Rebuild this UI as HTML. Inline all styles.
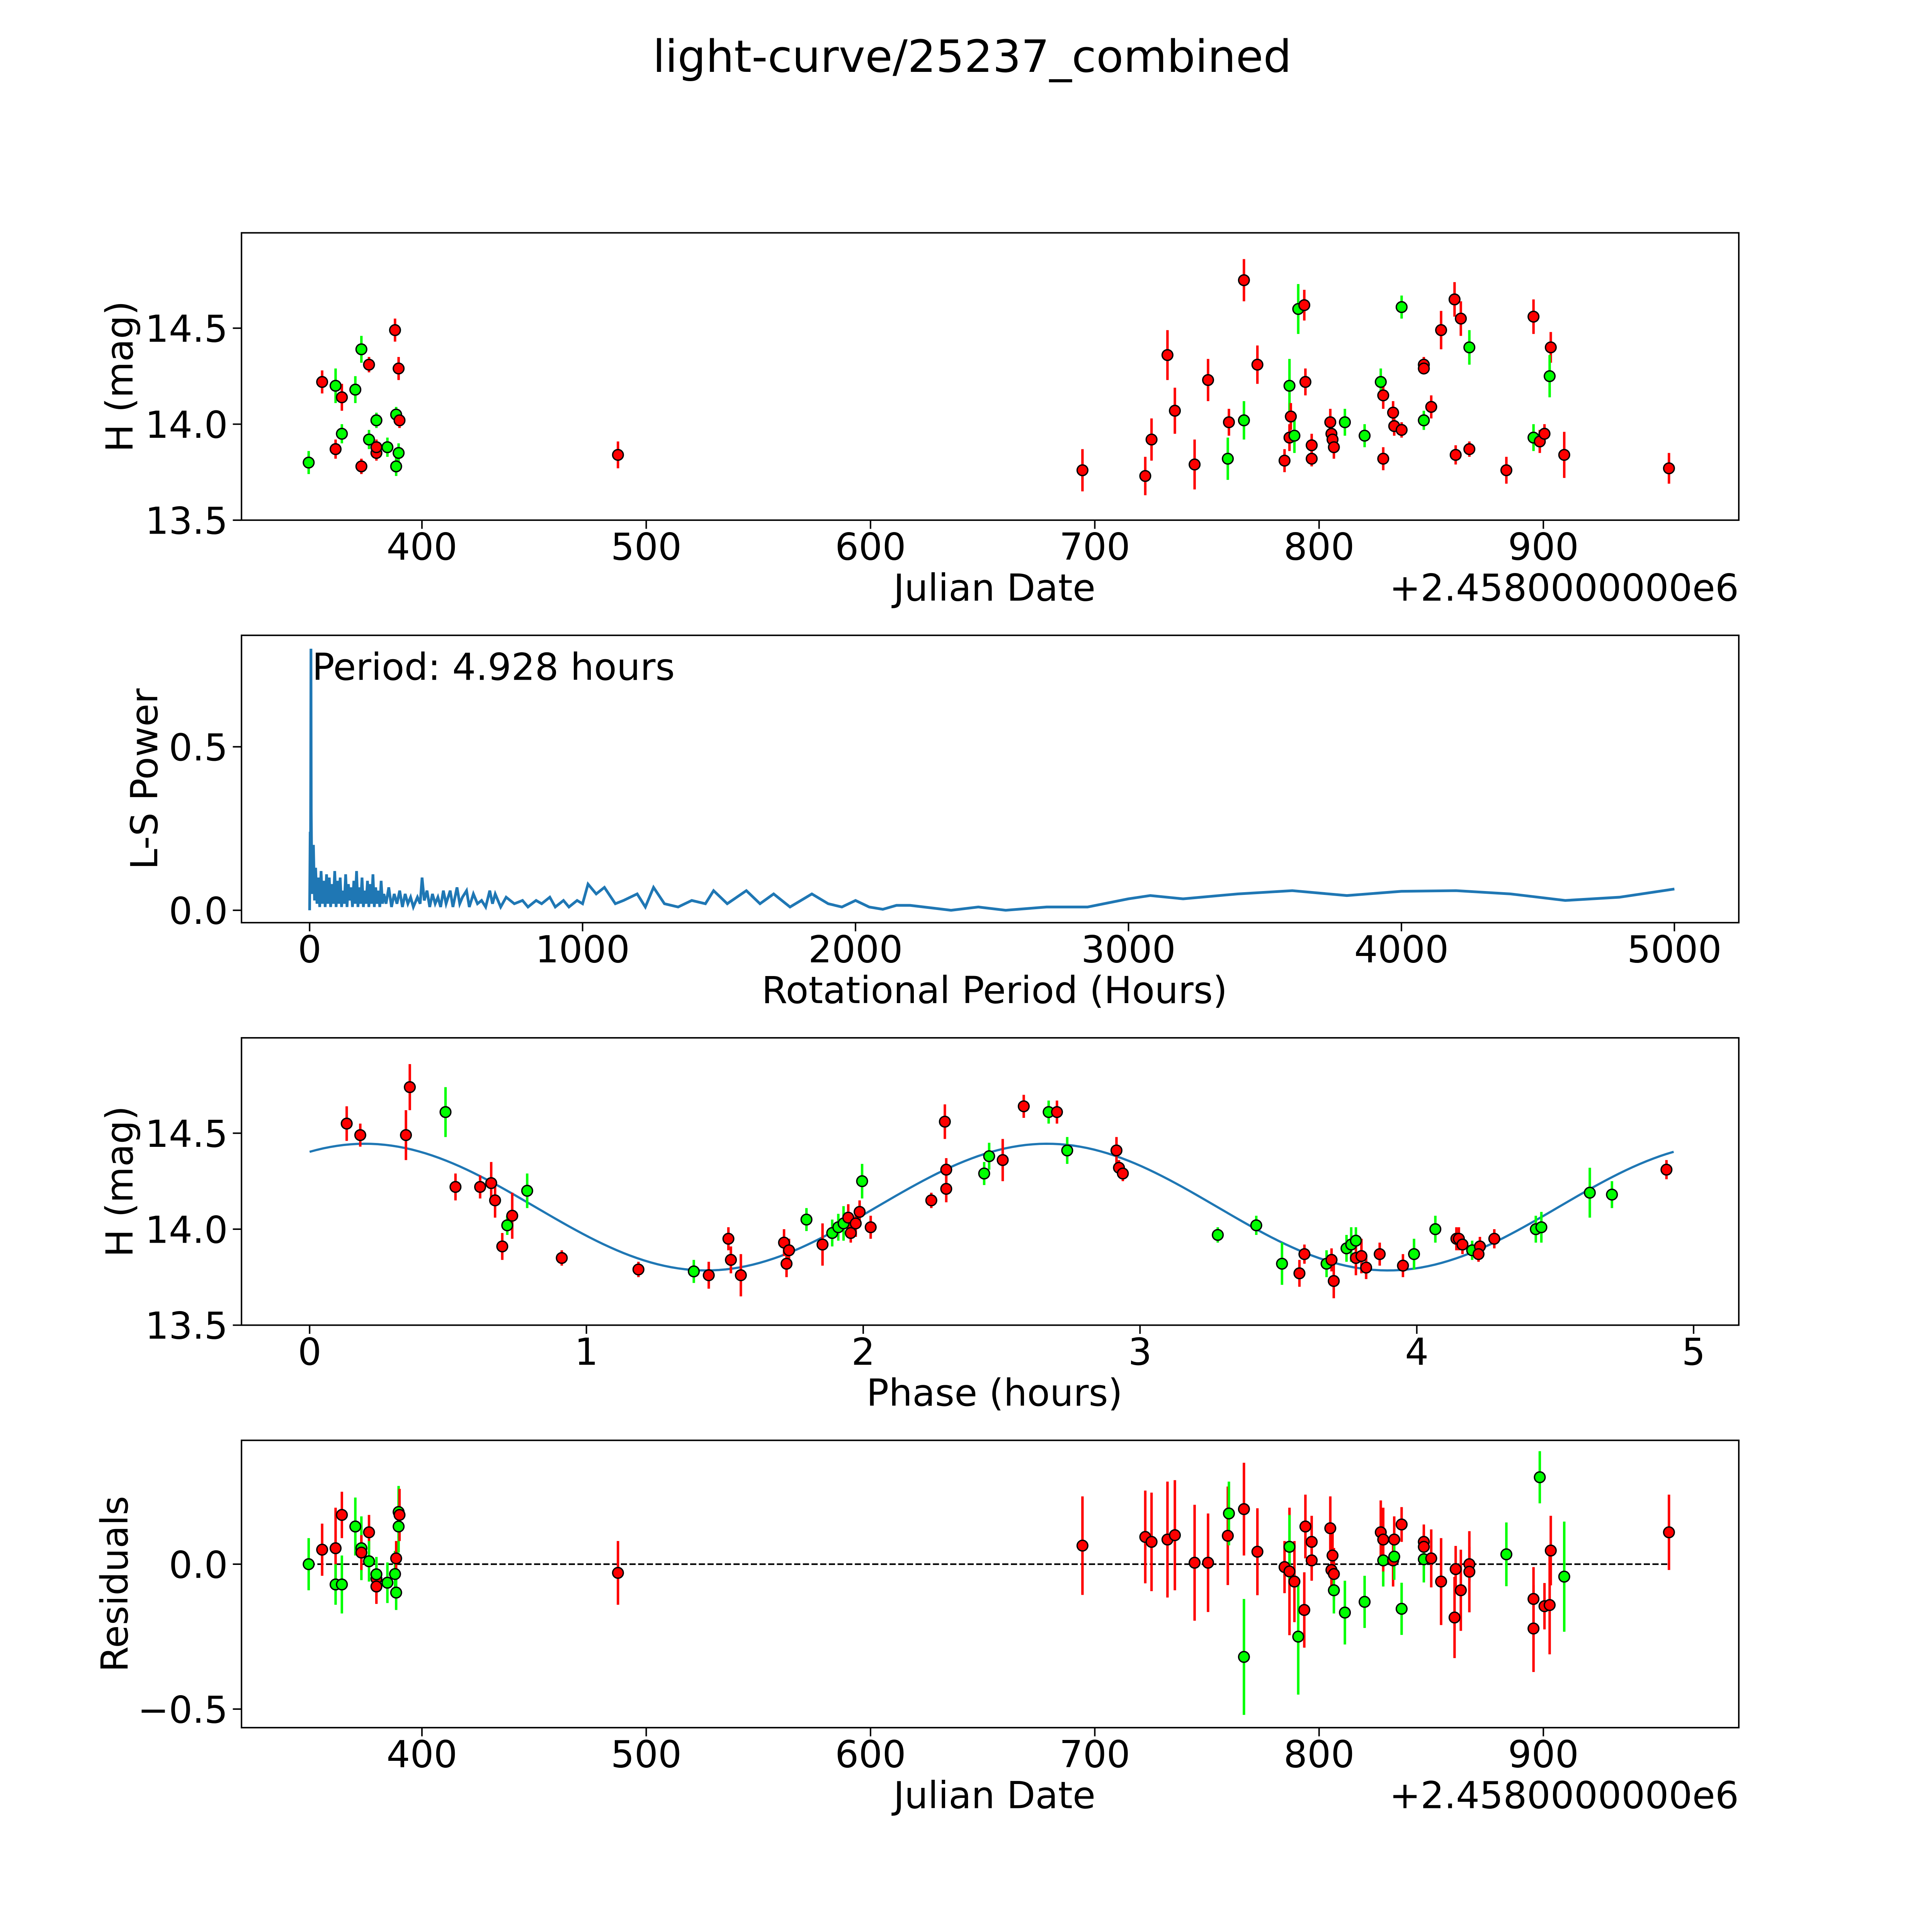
<!DOCTYPE html>
<html><head><meta charset="utf-8">
<style>
html,body{margin:0;padding:0;background:#fff;overflow:hidden;width:100%;height:100%;}
svg{display:block;width:100vw;height:100vh;font-family:"DejaVu Sans","Liberation Sans",sans-serif;}
</style></head>
<body>
<svg id="fig" viewBox="0 0 1560 1560" preserveAspectRatio="none" xmlns="http://www.w3.org/2000/svg">
<rect width="1560" height="1560" fill="#fff"/>
<text x="785" y="58" font-size="36" text-anchor="middle">light-curve/25237_combined</text>
</svg>
<script>
// ---------- data ----------
// Panel 1: light curve (offset JD, mag, error, band)
const lcJd  = [349.5,355.5,361.5,361.5,364.3,364.3,370.3,373,373,376.4,376.4,379.7,379.7,379.7,384.6,388,388.5,388.5,389.6,389.6,390,487.4,694.5,722.5,725.3,732.4,735.7,744.5,750.5,759.3,759.8,766.5,766.5,772.5,784.6,786.8,786.8,787.4,789,790.7,793.4,793.9,796.7,796.7,805,805.5,806,806.6,811.5,820.3,827.5,828.6,828.6,833,833.5,836.8,836.8,846.7,846.7,846.7,850,854.4,860.4,860.9,863.2,867,867,883.5,895.6,895.6,898.4,900.5,903.3,902.8,909.3,956];
const lcMag = [13.80,14.22,14.20,13.87,14.14,13.95,14.18,14.39,13.78,14.31,13.92,14.02,13.85,13.88,13.88,14.49,13.78,14.05,14.29,13.85,14.02,13.84,13.76,13.73,13.92,14.36,14.07,13.79,14.23,13.82,14.01,14.02,14.75,14.31,13.81,14.20,13.93,14.04,13.94,14.60,14.62,14.22,13.89,13.82,14.01,13.95,13.92,13.88,14.01,13.94,14.22,13.82,14.15,14.06,13.99,13.97,14.61,14.31,14.29,14.02,14.09,14.49,14.65,13.84,14.55,13.87,14.40,13.76,14.56,13.93,13.91,13.95,14.40,14.25,13.84,13.77];
const lcErr = [0.06,0.06,0.09,0.05,0.07,0.05,0.07,0.07,0.04,0.04,0.05,0.04,0.04,0.04,0.05,0.06,0.05,0.04,0.06,0.05,0.04,0.07,0.11,0.10,0.11,0.13,0.12,0.13,0.11,0.11,0.07,0.10,0.11,0.10,0.06,0.14,0.07,0.07,0.09,0.13,0.08,0.07,0.06,0.04,0.07,0.05,0.05,0.06,0.07,0.06,0.07,0.06,0.07,0.06,0.05,0.04,0.06,0.04,0.03,0.05,0.06,0.10,0.09,0.05,0.09,0.04,0.09,0.07,0.09,0.07,0.06,0.05,0.08,0.11,0.12,0.08];
const lcBand= "grgrrgggrrggrrgrggrgrrrrrrrrrgrgrrrgrrggrrrrrrrrgggrrrrrgrrgrrrrrrgrrgrrrgrr";
// Panel 2: periodogram
const lsPeriod = [0,2,3,4,4.9,6,8,10,14,18,22,27,32,37,42,47,52,57,62,67,72,77,82,87,92,97,102,107,112,117,122,127,132,137,142,147,152,157,162,167,172,177,182,187,192,197,202,207,212,217,222,227,232,237,242,247,252,257,262,267,272,280,290,300,310,320,330,340,350,360,370,380,395,405,412,420,430,440,450,460,470,480,490,500,515,525,540,550,560,575,585,600,615,630,645,660,670,680,700,720,750,780,800,830,850,880,900,930,950,980,1000,1020,1050,1080,1120,1150,1200,1230,1260,1300,1350,1400,1450,1480,1530,1600,1650,1700,1760,1840,1900,1950,2000,2050,2100,2150,2200,2300,2350,2450,2550,2700,2850,3000,3080,3200,3400,3600,3800,4000,4200,4400,4600,4800,5000];
const lsPower  = [0.0,0.24,0.05,0.40,0.80,0.30,0.10,0.05,0.20,0.03,0.13,0.02,0.10,0.01,0.12,0.02,0.09,0.01,0.11,0.02,0.10,0.01,0.08,0.02,0.12,0.01,0.09,0.02,0.10,0.01,0.06,0.02,0.11,0.01,0.08,0.03,0.07,0.01,0.09,0.02,0.12,0.01,0.07,0.02,0.10,0.01,0.06,0.02,0.09,0.01,0.08,0.02,0.11,0.01,0.07,0.02,0.06,0.01,0.09,0.02,0.05,0.02,0.07,0.01,0.05,0.02,0.06,0.01,0.05,0.02,0.04,0.01,0.04,0.02,0.10,0.03,0.06,0.01,0.05,0.02,0.04,0.01,0.06,0.02,0.06,0.01,0.07,0.02,0.04,0.06,0.01,0.05,0.02,0.03,0.01,0.06,0.02,0.05,0.01,0.04,0.02,0.03,0.01,0.03,0.02,0.04,0.01,0.03,0.01,0.03,0.02,0.08,0.05,0.07,0.02,0.03,0.05,0.01,0.07,0.02,0.01,0.03,0.02,0.06,0.02,0.06,0.02,0.05,0.01,0.05,0.02,0.01,0.03,0.01,0.003,0.015,0.015,0.005,0.0,0.01,0.0,0.01,0.01,0.035,0.045,0.035,0.05,0.06,0.045,0.058,0.06,0.05,0.03,0.04,0.065];
// Panel 3: phased light curve
const phPhase = [0.134,0.183,0.348,0.362,0.491,0.527,0.616,0.656,0.67,0.696,0.714,0.732,0.786,0.911,1.188,1.388,1.442,1.513,1.522,1.558,1.714,1.723,1.732,1.795,1.853,1.888,1.91,1.929,1.946,1.955,1.973,1.987,1.996,2.027,2.246,2.295,2.3,2.3,2.437,2.455,2.504,2.58,2.67,2.70,2.737,2.915,2.924,2.938,3.281,3.42,3.513,3.576,3.594,3.674,3.692,3.70,3.746,3.763,3.78,3.78,3.8,3.817,3.866,3.95,3.99,4.067,4.143,4.152,4.165,4.2,4.228,4.223,4.28,4.43,4.45,4.625,4.705,4.902];
const phMag   = [14.55,14.49,14.49,14.74,14.61,14.22,14.22,14.24,14.15,13.91,14.02,14.07,14.20,13.85,13.79,13.78,13.76,13.95,13.84,13.76,13.93,13.82,13.89,14.05,13.92,13.98,14.01,14.03,14.06,13.98,14.03,14.09,14.25,14.01,14.15,14.56,14.31,14.21,14.29,14.38,14.36,14.64,14.61,14.61,14.41,14.41,14.32,14.29,13.97,14.02,13.82,13.77,13.87,13.82,13.84,13.73,13.90,13.92,13.94,13.85,13.86,13.80,13.87,13.81,13.87,14.00,13.95,13.95,13.92,13.89,13.91,13.87,13.95,14.00,14.01,14.19,14.18,14.31];
const phErr   = [0.09,0.06,0.13,0.12,0.13,0.07,0.06,0.11,0.09,0.07,0.05,0.12,0.09,0.04,0.04,0.06,0.07,0.06,0.07,0.11,0.07,0.07,0.06,0.06,0.11,0.07,0.07,0.09,0.07,0.05,0.07,0.06,0.09,0.06,0.04,0.09,0.06,0.07,0.06,0.07,0.11,0.06,0.06,0.06,0.07,0.07,0.04,0.04,0.04,0.05,0.11,0.07,0.05,0.07,0.06,0.09,0.07,0.09,0.07,0.09,0.09,0.06,0.06,0.06,0.08,0.07,0.06,0.06,0.05,0.05,0.05,0.04,0.05,0.07,0.08,0.13,0.07,0.05];
const phBand  = "rrrrgrrrrrgrgrrgrrrrrrrgrgggrrrrgrrrrrggrrgrgrrrgggrrgrrgggrrrrrggrrrgrrrggggr";
// sine fit parameters
const fitMean = 14.115, fitAmp = 0.33, fitPeriod = 2.464, fitPeak = 0.2, foldPeriod = 4.928;
// Panel 4: residuals
const rsJd  = [349.5,355.5,361.5,361.5,364.3,364.3,370.3,373,373,376.4,376.4,379.7,379.7,379.7,384.6,388.5,388,388.5,389.6,389.6,390,487.4,694.5,722.5,725.3,732.4,735.7,744.5,750.5,759.3,759.8,766.5,766.5,772.5,784.6,786.8,786.8,789,790.7,793.4,793.9,796.7,796.7,805,805.5,806,806.6,806.6,811.5,820.3,827.5,828.6,828.6,833,833.5,833.5,836.8,836.8,846.7,846.7,846.7,850,854.4,860.4,860.9,863.2,867,867,883.5,895.6,895.6,898.4,900.5,903.3,902.8,909.3,956];
const rsVal = [0.0,0.05,0.055,-0.07,-0.07,0.17,0.13,0.055,0.04,0.11,0.01,-0.05,-0.035,-0.077,-0.064,-0.098,-0.034,0.02,0.13,0.18,0.17,-0.03,0.064,0.094,0.077,0.085,0.1,0.005,0.005,0.098,0.175,0.19,-0.32,0.043,-0.01,-0.025,0.06,-0.06,-0.25,-0.158,0.13,0.077,0.013,0.124,-0.02,0.03,-0.034,-0.09,-0.167,-0.13,0.11,0.013,0.085,0.013,0.085,0.026,0.137,-0.154,0.077,0.06,0.017,0.02,-0.06,-0.184,-0.017,-0.09,0.0,-0.026,0.034,-0.222,-0.12,0.3,-0.145,0.047,-0.141,-0.043,0.11];
const rsErr = [0.09,0.09,0.14,0.07,0.1,0.08,0.1,0.11,0.06,0.06,0.07,0.06,0.06,0.06,0.07,0.06,0.08,0.06,0.09,0.09,0.09,0.11,0.17,0.16,0.17,0.2,0.19,0.2,0.17,0.17,0.11,0.16,0.2,0.15,0.09,0.22,0.11,0.14,0.2,0.13,0.11,0.09,0.07,0.11,0.08,0.08,0.09,0.08,0.11,0.09,0.11,0.09,0.11,0.09,0.08,0.08,0.06,0.09,0.06,0.05,0.08,0.1,0.15,0.14,0.08,0.14,0.06,0.14,0.11,0.15,0.11,0.09,0.08,0.12,0.17,0.19,0.13];
const rsBand= "grrggrggrrgrgrgggrggrrrrrrrrrrgrgrrrgrgrrrrrrrrgggrgrrrgrgrrgrrrrrrrgrrgrrrgrr";

// ---------- helpers ----------
const NS="http://www.w3.org/2000/svg";
const fig=document.getElementById('fig');
function mk(tag,attrs,parent){const e=document.createElementNS(NS,tag);for(const k in attrs)e.setAttribute(k,attrs[k]);(parent||fig).appendChild(e);return e;}
const COL={r:'#ff0000',g:'#00ff00'};
const FS=30;
function panel(name,x0,y0,x1,y1){
  const g=mk('g',{});
  
  
  return {g,x0,y0,x1,y1};
}
function frame(p){
  const r=mk('rect',{x:p.x0,y:p.y0,width:p.x1-p.x0,height:p.y1-p.y0,fill:'none',stroke:'#000','stroke-width':1.2},p.g);
  
  
}
function xticks(p,vals,fx,fmt){
  vals.forEach(v=>{const x=fx(v);
    mk('line',{x1:x,x2:x,y1:p.y1,y2:p.y1+7,stroke:'#000','stroke-width':1.2},p.g);
    const t=mk('text',{x:x,y:p.y1+32,'font-size':FS,'text-anchor':'middle'},p.g);
    
    
    t.textContent=fmt(v);});
}
function yticks(p,vals,fy,fmt){
  vals.forEach(v=>{const y=fy(v);
    mk('line',{x1:p.x0-7,x2:p.x0,y1:y,y2:y,stroke:'#000','stroke-width':1.2},p.g);
    const t=mk('text',{x:p.x0-11,y:y+11,'font-size':FS,'text-anchor':'end'},p.g);
    
    
    t.textContent=fmt(v);});
}
function label(p,txt,x,y,rot,name){
  const t=mk('text',{x:x,y:y,'font-size':FS,'text-anchor':'middle',transform:rot?`rotate(-90 ${x} ${y})`:''},p.g);
  
  
  t.textContent=txt;
}
function points(p,xs,ys,es,bands,fx,fy){
  xs.forEach((xv,i)=>{const c=COL[bands[i]]||COL.r;const x=fx(xv);
    const l=mk('line',{x1:x,x2:x,y1:fy(ys[i]-es[i]),y2:fy(ys[i]+es[i]),stroke:c,'stroke-width':2},p.g);
    
    
  });
  xs.forEach((xv,i)=>{const c=COL[bands[i]]||COL.r;
    const d=mk('circle',{cx:fx(xv),cy:fy(ys[i]),r:4.3,fill:c,stroke:'#000','stroke-width':1.1},p.g);
    
    
  });
}
const fmt1=v=>v.toFixed(1).replace('-','\u2212');
const offsetText=(p,y)=>{const t=mk('text',{x:p.x1,y:y,'font-size':FS,'text-anchor':'end'},p.g);
  
  
  t.textContent='+2.4580000000e6';};

// ---------- panel 1 ----------
const p1=panel('light-curve-panel',195,188,1404,420);
const jx=d=>340.7+(d-400)*1.811;
const m1=m=>420-(m-13.5)*155;
frame(p1);
points(p1,lcJd,lcMag,lcErr,lcBand,jx,m1);
xticks(p1,[400,500,600,700,800,900],jx,v=>String(v));
yticks(p1,[13.5,14.0,14.5],m1,fmt1);
label(p1,'Julian Date',803,485,false,'x-axis-title');
label(p1,'H (mag)',107,304,true,'y-axis-title');
offsetText(p1,485);

// ---------- panel 2 ----------
const p2=panel('periodogram-panel',195,513,1404,745);
const px=h=>250+h*0.2204;
const py=v=>735-v*264;
frame(p2);
const ls=mk('polyline',{points:lsPeriod.map((h,i)=>px(h)+','+py(lsPower[i])).join(' '),fill:'none',stroke:'#1f77b4','stroke-width':2.2},p2.g);


xticks(p2,[0,1000,2000,3000,4000,5000],px,v=>String(v));
yticks(p2,[0.0,0.5],py,fmt1);
label(p2,'Rotational Period (Hours)',803,810,false,'x-axis-title');
label(p2,'L-S Power',127,629,true,'y-axis-title');
const pt=mk('text',{x:252,y:549,'font-size':FS},p2.g);


pt.textContent='Period: 4.928 hours';

// ---------- panel 3 ----------
const p3=panel('phased-curve-panel',195,838,1404,1070);
const phx=t=>250+t*223.5;
const m3=m=>1070-(m-13.5)*155;
frame(p3);
const fitPts=[];
for(let i=0;i<=200;i++){const t=foldPeriod*i/200;fitPts.push(phx(t)+','+m3(fitMean+fitAmp*Math.cos(2*Math.PI*(t-fitPeak)/fitPeriod)));}
const fl=mk('polyline',{points:fitPts.join(' '),fill:'none',stroke:'#1f77b4','stroke-width':1.8},p3.g);


points(p3,phPhase,phMag,phErr,phBand,phx,m3);
xticks(p3,[0,1,2,3,4,5],phx,v=>String(v));
yticks(p3,[13.5,14.0,14.5],m3,fmt1);
label(p3,'Phase (hours)',803,1135,false,'x-axis-title');
label(p3,'H (mag)',107,954,true,'y-axis-title');

// ---------- panel 4 ----------
const p4=panel('residuals-panel',195,1163,1404,1395);
const r4=v=>1263-v*234;
frame(p4);
const zl=mk('line',{x1:jx(349.5),x2:jx(956),y1:r4(0),y2:r4(0),stroke:'#000','stroke-width':1.3,'stroke-dasharray':'5,2'},p4.g);


points(p4,rsJd,rsVal,rsErr,rsBand,jx,r4);
xticks(p4,[400,500,600,700,800,900],jx,v=>String(v));
yticks(p4,[-0.5,0.0],r4,fmt1);
label(p4,'Julian Date',803,1460,false,'x-axis-title');
label(p4,'Residuals',103,1279,true,'y-axis-title');
offsetText(p4,1460);
</script>
</body></html>
